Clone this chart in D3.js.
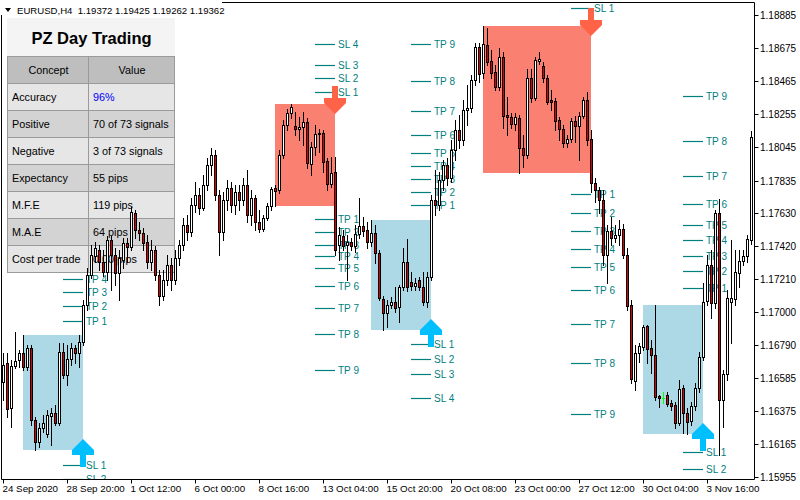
<!DOCTYPE html>
<html><head><meta charset="utf-8">
<script src="https://cdn.jsdelivr.net/npm/d3@7/dist/d3.min.js"></script>
<style>html,body{margin:0;padding:0;background:#fff;}svg{display:block;}</style>
</head><body>
<svg id="chart" width="800" height="500"></svg>
<script>
const symbolHeader = "EURUSD,H4  1.19372 1.19425 1.19262 1.19362";

const openPrices = [1.16557,1.16678,1.16392,1.16659,1.16697,1.16741,1.16653,1.16773,1.16317,1.16177,
1.16266,1.16228,1.16342,1.16361,1.16298,1.16747,1.16602,1.16703,1.16773,1.16741,
1.16811,1.17046,1.17236,1.17357,1.17395,1.17318,1.17255,1.17458,1.17363,1.17249,
1.17331,1.17439,1.17414,1.17629,1.17521,1.17502,1.17445,1.17318,1.17395,1.17236,
1.17103,1.17204,1.17299,1.17204,1.17344,1.17426,1.17553,1.17508,1.17680,1.17743,
1.17661,1.17807,1.17933,1.17997,1.17743,1.17508,1.17712,1.17788,1.17680,1.17762,
1.17712,1.17807,1.17616,1.17724,1.17572,1.17528,1.17597,1.17674,1.17788,1.17775,
1.17997,1.18187,1.18264,1.18181,1.18162,1.18175,1.18206,1.17940,1.18048,1.18137,
1.18137,1.17959,1.17814,1.17889,1.17426,1.17483,1.17426,1.17445,1.17420,1.17496,
1.17547,1.17521,1.17445,1.17502,1.17376,1.17084,1.16995,1.17046,1.17065,1.17034,
1.17160,1.17318,1.17191,1.17166,1.17204,1.17160,1.17065,1.17224,1.17712,1.17680,
1.17839,1.17933,1.17851,1.18029,1.18156,1.18092,1.18283,1.18295,1.18473,1.18682,
1.18517,1.18694,1.18594,1.18523,1.18429,1.18619,1.18251,1.18239,1.18194,1.18232,
1.18041,1.17997,1.18485,1.18358,1.18594,1.18562,1.18485,1.18346,1.18340,1.18219,
1.18162,1.18073,1.18099,1.18213,1.18181,1.18245,1.18346,1.18099,1.17820,1.17775,
1.17712,1.17363,1.17515,1.17470,1.17489,1.17528,1.17363,1.17046,1.16564,1.16741,
1.16780,1.16913,1.16773,1.16728,1.16469,1.16456,1.16475,1.16424,1.16411,1.16298,
1.16519,1.16361,1.16311,1.16405,1.16519,1.16716,1.17072,1.17299,1.17059,1.17629,
1.16443,1.16609,1.17065,1.17084,1.17249,1.17325,1.17357,1.17458];

const highPrices = [1.16741,1.16741,1.16697,1.16874,1.16760,1.16855,1.16792,1.16792,1.16336,1.16298,
1.16348,1.16380,1.16392,1.16411,1.16805,1.16805,1.16792,1.16805,1.16792,1.16855,
1.17078,1.17280,1.17426,1.17445,1.17426,1.17395,1.17483,1.17483,1.17407,1.17395,
1.17470,1.17470,1.17668,1.17648,1.17572,1.17534,1.17489,1.17458,1.17420,1.17268,
1.17268,1.17363,1.17344,1.17395,1.17458,1.17597,1.17616,1.17724,1.17826,1.17788,
1.17870,1.17978,1.18041,1.18029,1.17775,1.17762,1.17839,1.17826,1.17807,1.17807,
1.17851,1.17902,1.17775,1.17743,1.17648,1.17616,1.17693,1.17795,1.17807,1.18029,
1.18219,1.18289,1.18321,1.18270,1.18239,1.18270,1.18232,1.18079,1.18187,1.18162,
1.18156,1.17978,1.17985,1.17985,1.17541,1.17521,1.17489,1.17470,1.17553,1.17724,
1.17604,1.17572,1.17585,1.17553,1.17395,1.17103,1.17078,1.17097,1.17160,1.17172,
1.17407,1.17464,1.17255,1.17217,1.17224,1.17255,1.17255,1.17743,1.17902,1.17889,
1.17965,1.17978,1.18092,1.18219,1.18251,1.18346,1.18441,1.18504,1.18707,1.18707,
1.18815,1.18802,1.18663,1.18568,1.18675,1.18650,1.18365,1.18264,1.18264,1.18251,
1.18124,1.18543,1.18543,1.18619,1.18650,1.18587,1.18504,1.18409,1.18358,1.18239,
1.18187,1.18124,1.18232,1.18245,1.18270,1.18365,1.18396,1.18156,1.17851,1.17795,
1.17775,1.17553,1.17604,1.17553,1.17585,1.17560,1.17407,1.17078,1.16792,1.16805,
1.16919,1.16919,1.16824,1.17046,1.16475,1.16494,1.16494,1.16443,1.16430,1.16570,
1.16538,1.16392,1.16430,1.16551,1.16747,1.17185,1.17363,1.17395,1.17648,1.17718,
1.16634,1.17141,1.17458,1.17395,1.17395,1.17395,1.17489,1.18150];

const lowPrices = [1.16443,1.16336,1.16273,1.16646,1.16653,1.16634,1.16634,1.16285,1.16126,1.16146,
1.16240,1.16209,1.16158,1.16285,1.16285,1.16583,1.16538,1.16665,1.16678,1.16653,
1.16792,1.17014,1.17217,1.17318,1.17268,1.17230,1.17204,1.17141,1.17172,1.17078,
1.17280,1.17318,1.17395,1.17470,1.17458,1.17395,1.17280,1.17268,1.17204,1.17046,
1.17078,1.17172,1.17141,1.17179,1.17299,1.17395,1.17458,1.17483,1.17635,1.17623,
1.17648,1.17775,1.17870,1.17712,1.17363,1.17458,1.17648,1.17635,1.17623,1.17648,
1.17680,1.17572,1.17553,1.17521,1.17508,1.17515,1.17585,1.17648,1.17674,1.17756,
1.17978,1.18156,1.18232,1.18124,1.18092,1.18060,1.17914,1.17870,1.17997,1.18016,
1.17889,1.17775,1.17795,1.17363,1.17331,1.17395,1.17204,1.17395,1.17382,1.17470,
1.17483,1.17407,1.17420,1.17312,1.17078,1.16887,1.16907,1.17027,1.17001,1.16938,
1.17141,1.17135,1.17141,1.17141,1.17141,1.17046,1.17034,1.17204,1.17616,1.17648,
1.17775,1.17807,1.17826,1.17965,1.18041,1.18060,1.18187,1.18270,1.18441,1.18460,
1.18485,1.18568,1.18485,1.18409,1.18409,1.18168,1.18124,1.18168,1.18156,1.17883,
1.17921,1.17978,1.18333,1.18346,1.18575,1.18460,1.18321,1.18283,1.18156,1.18092,
1.18048,1.18048,1.18079,1.18079,1.17965,1.18232,1.18060,1.17762,1.17699,1.17629,
1.17299,1.17185,1.17426,1.17445,1.17426,1.17344,1.17014,1.16551,1.16507,1.16684,
1.16760,1.16678,1.16615,1.16443,1.16399,1.16424,1.16405,1.16380,1.16266,1.16285,
1.16234,1.16228,1.16285,1.16380,1.16494,1.16697,1.17046,1.16963,1.17027,1.16094,
1.16273,1.16570,1.16805,1.17046,1.17160,1.17299,1.17318,1.17433];

const closePrices = [1.16665,1.16386,1.16659,1.16691,1.16741,1.16653,1.16773,1.16317,1.16177,1.16266,
1.16298,1.16348,1.16361,1.16298,1.16747,1.16602,1.16703,1.16773,1.16741,1.16811,
1.17046,1.17236,1.17363,1.17407,1.17318,1.17255,1.17458,1.17363,1.17249,1.17344,
1.17439,1.17414,1.17635,1.17521,1.17502,1.17439,1.17318,1.17395,1.17236,1.17103,
1.17204,1.17299,1.17204,1.17344,1.17426,1.17553,1.17508,1.17680,1.17743,1.17661,
1.17807,1.17933,1.17997,1.17743,1.17508,1.17712,1.17788,1.17680,1.17762,1.17712,
1.17807,1.17616,1.17724,1.17572,1.17528,1.17597,1.17674,1.17782,1.17769,1.17997,
1.18187,1.18264,1.18302,1.18162,1.18175,1.18206,1.17946,1.18048,1.18131,1.18131,
1.17952,1.17814,1.17883,1.17395,1.17489,1.17420,1.17445,1.17420,1.17496,1.17547,
1.17515,1.17445,1.17502,1.17376,1.17090,1.16995,1.17046,1.17065,1.17027,1.17160,
1.17318,1.17160,1.17166,1.17185,1.17160,1.17065,1.17224,1.17712,1.17680,1.17839,
1.17933,1.17851,1.18029,1.18156,1.18092,1.18283,1.18295,1.18473,1.18682,1.18511,
1.18701,1.18587,1.18517,1.18429,1.18619,1.18245,1.18239,1.18194,1.18239,1.18041,
1.17997,1.18485,1.18358,1.18600,1.18606,1.18485,1.18333,1.18333,1.18213,1.18162,
1.18073,1.18099,1.18213,1.18181,1.18245,1.18346,1.18092,1.17820,1.17775,1.17712,
1.17363,1.17515,1.17470,1.17489,1.17528,1.17363,1.17040,1.16577,1.16741,1.16786,
1.16907,1.16767,1.16728,1.16463,1.16456,1.16456,1.16418,1.16405,1.16298,1.16513,
1.16361,1.16304,1.16405,1.16519,1.16716,1.17065,1.17299,1.17059,1.17629,1.16443,
1.16609,1.17090,1.17090,1.17255,1.17325,1.17357,1.17464,1.18112];

const priceTicks = [1.18885,1.18675,1.18465,1.18255,1.18045,1.17835,1.17630,1.17420,1.17210,1.17000,1.16790,1.16585,1.16375,1.16165,1.15955];
const timeTickBars = [0,16,32,48,64,80,96,112,128,144,160,176];
const timeTickLabels = ["24 Sep 2020","28 Sep 20:00","1 Oct 12:00","6 Oct 00:00","8 Oct 16:00","13 Oct 04:00","15 Oct 20:00","20 Oct 08:00","23 Oct 00:00","27 Oct 12:00","30 Oct 04:00","3 Nov 16:00"];

const signalStartBar = [5,68,92,120,160];
const signalEndBar = [20,83,107,147,175];
const signalSide = ["buy","sell","buy","sell","buy"];
const stopLevels = [
  [1.16031,1.15942],
  [1.18396,1.18485,1.18568,1.18701],
  [1.16799,1.16703,1.16609,1.16456],
  [1.18929],
  [1.16114,1.16006]];
const targetLevels = [
  [1.16945,1.17040,1.17128,1.17211],
  [1.17591,1.17508,1.17426,1.17357,1.17280,1.17166,1.17027,1.16862,1.16634],
  [1.17680,1.17762,1.17845,1.17927,1.18010,1.18124,1.18277,1.18466,1.18701],
  [1.17750,1.17629,1.17515,1.17401,1.17287,1.17141,1.16926,1.16678,1.16355],
  [1.17153,1.17262,1.17357,1.17458,1.17553,1.17687,1.17864,1.18086,1.18371]];

const tableTitle = "PZ Day Trading";
const tableHeader = ["Concept","Value"];
const tableConcepts = ["Accuracy","Positive","Negative","Expectancy","M.F.E","M.A.E","Cost per trade"];
const tableValues = ["96%","70 of 73 signals","3 of 73 signals","55 pips","119 pips","64 pips","0.00 pips"];

// ---------- drawing ----------
const FONT = "'Liberation Sans', Arial, sans-serif";
const svg = d3.select("#chart");
const plot = {l:1.5, t:2.5, r:754.5, b:479.5};
const x = d3.scaleLinear().domain([0, openPrices.length - 1]).range([3, 751]);
const y = d3.scaleLinear().domain([1.15955, 1.18885]).range([477, 15]);

svg.append("rect").attr("width",800).attr("height",500).attr("fill","#fff");
svg.append("defs").append("clipPath").attr("id","pc").append("rect")
  .attr("x",2).attr("y",3).attr("width",752).attr("height",476);

// table
const tbl = svg.append("g");
const tX0 = 7, tX1 = 88, tX2 = 174, rowH = 27, tY0 = 56;
tbl.append("rect").attr("x",tX0).attr("y",18).attr("width",tX2 - tX0 + 1).attr("height",38).attr("fill","#f4f4f4");
tbl.append("text").attr("x",(tX0+tX2)/2+1).attr("y",44).attr("text-anchor","middle")
  .attr("font-family",FONT).attr("font-weight","bold").attr("font-size",16.5).attr("fill","#000").text(tableTitle);
const rows = [tableHeader].concat(tableConcepts.map((c,i)=>[c, tableValues[i]]));
rows.forEach((r,i)=>{
  const y0 = tY0 + i*rowH;
  const fill = i===0 ? "#bebebe" : (i%2===1 ? "#e6e6e6" : "#d3d3d3");
  [[tX0,tX1],[tX1,tX2]].forEach(([a,b],j)=>{
    tbl.append("rect").attr("x",a+0.5).attr("y",y0+0.5).attr("width",b-a).attr("height",rowH)
      .attr("fill",fill).attr("stroke","#9a9a9a").attr("stroke-width",1);
    const t = tbl.append("text").attr("font-family",FONT).attr("font-size",10.8)
      .attr("y",y0 + rowH/2 + 4.5).text(r[j]);
    if (i===0) t.attr("x",(a+b)/2+1).attr("text-anchor","middle");
    else t.attr("x", a+5);
    t.attr("fill", (i===1 && j===1) ? "#0000ff" : "#000");
  });
});

// signals
const gp = svg.append("g").attr("clip-path","url(#pc)");
const boxG = gp.append("g"), lvlG = gp.append("g"), arrG = gp.append("g"), candleG = gp.append("g");
signalStartBar.forEach((s,k)=>{
  const e = signalEndBar[k];
  const idx = d3.range(s, e);
  const top = d3.max(idx, i=>highPrices[i]);
  const bot = d3.min(idx, i=>lowPrices[i]);
  const buy = signalSide[k]==="buy";
  const x0 = Math.round(x(s)), x1 = Math.round(x(e));
  const yT = Math.round(y(top)), yB = Math.round(y(bot));
  boxG.append("rect").attr("x",x0).attr("y",yT).attr("width",x1-x0).attr("height",yB-yT)
    .attr("fill", buy ? "#add8e6" : "#fa8072");
  const lv = stopLevels[k].map((p,j)=>({p, name:"SL "+(j+1)}))
    .concat(targetLevels[k].map((p,j)=>({p, name:"TP "+(j+1)})));
  lv.forEach(d=>{
    const yy = Math.round(y(d.p)) + 0.5;
    lvlG.append("line").attr("x1",x1-20).attr("x2",x1).attr("y1",yy).attr("y2",yy)
      .attr("stroke","#008080").attr("stroke-width",1.2);
    if (yy > 478) {
      // level sits on the bottom edge: only the top of its label shows, as in the reference
      const cg = lvlG.append("svg").attr("x",x1+2).attr("y",yy-6).attr("width",24).attr("height",479-(yy-6)).attr("overflow","hidden");
      cg.append("text").attr("x",1).attr("y",9.5).attr("font-family",FONT)
        .attr("font-size",10).attr("fill","#008080").text(d.name);
      return;
    }
    lvlG.append("text").attr("x",x1+3).attr("y",yy+3.5).attr("font-family",FONT)
      .attr("font-size",10).attr("fill","#008080").text(d.name);
  });
  // arrow
  const cx = x1;
  const tip = buy ? yB - 11 : yT + 10;
  const dir = buy ? 1 : -1;
  const pts = [[0,0],[11,11],[11,16],[3,16],[3,28],[-3,28],[-3,16],[-11,16],[-11,11]]
    .map(([a,b])=>[cx + a, tip + dir*b]);
  arrG.append("polygon").attr("points", pts.map(p=>p.join(",")).join(" "))
    .attr("fill", buy ? "#00bfff" : "#ff6347");
});

// candles
openPrices.forEach((o,i)=>{
  const c = closePrices[i], h = highPrices[i], l = lowPrices[i];
  const cx = Math.round(x(i));
  const doji = o === c;
  const col = doji ? "#00ff00" : "#000";
  candleG.append("line").attr("x1",cx+0.5).attr("x2",cx+0.5)
    .attr("y1",Math.round(y(h))).attr("y2",Math.round(y(l))+1).attr("stroke",col).attr("stroke-width",1);
  const yt = Math.round(y(Math.max(o,c))), yb = Math.round(y(Math.min(o,c)));
  if (doji) {
    candleG.append("line").attr("x1",cx-1).attr("x2",cx+2).attr("y1",yt+0.5).attr("y2",yt+0.5)
      .attr("stroke",col).attr("stroke-width",1);
  } else {
    candleG.append("rect").attr("x",cx-0.5).attr("y",yt+0.5).attr("width",2).attr("height",Math.max(yb-yt,0))
      .attr("fill", c > o ? "#fff" : "#dd0000").attr("stroke","#000").attr("stroke-width",1);
  }
});

// frame
const frame = svg.append("g").attr("stroke","#000").attr("stroke-width",1);
frame.append("line").attr("x1",plot.l).attr("x2",plot.l).attr("y1",plot.t).attr("y2",plot.b);
frame.append("line").attr("x1",plot.r).attr("x2",plot.r).attr("y1",plot.t).attr("y2",plot.b);
frame.append("line").attr("x1",plot.l).attr("x2",plot.r).attr("y1",plot.t).attr("y2",plot.t);
frame.append("line").attr("x1",plot.l).attr("x2",plot.r).attr("y1",plot.b).attr("y2",plot.b);

// right axis
const ra = svg.append("g");
priceTicks.forEach(p=>{
  const yy = Math.round(y(p)) + 0.5;
  ra.append("line").attr("x1",plot.r).attr("x2",plot.r+4).attr("y1",yy).attr("y2",yy).attr("stroke","#000");
  ra.append("text").attr("x",760).attr("y",yy+3.5).attr("font-family",FONT).attr("font-size",10)
    .attr("fill","#000").text(p.toFixed(5));
});
// bottom axis
const ba = svg.append("g");
timeTickBars.forEach((b,k)=>{
  const xx = Math.round(x(b)) + 0.5;
  ba.append("line").attr("x1",xx).attr("x2",xx).attr("y1",plot.b).attr("y2",plot.b+4).attr("stroke","#000");
  ba.append("text").attr("x",xx-1).attr("y",491.5).attr("font-family",FONT).attr("font-size",9.8)
    .attr("fill","#000").text(timeTickLabels[k]);
});

// header
svg.append("rect").attr("x",0).attr("y",0).attr("width",222).attr("height",15).attr("fill","#fff");
svg.append("polygon").attr("points","5,8 11,8 8,12").attr("fill","#000");
svg.append("text").attr("x",17).attr("y",14).attr("font-family",FONT).attr("font-size",9.6)
  .attr("fill","#000").attr("xml:space","preserve").style("white-space","pre").text(symbolHeader);
</script>
</body></html>
